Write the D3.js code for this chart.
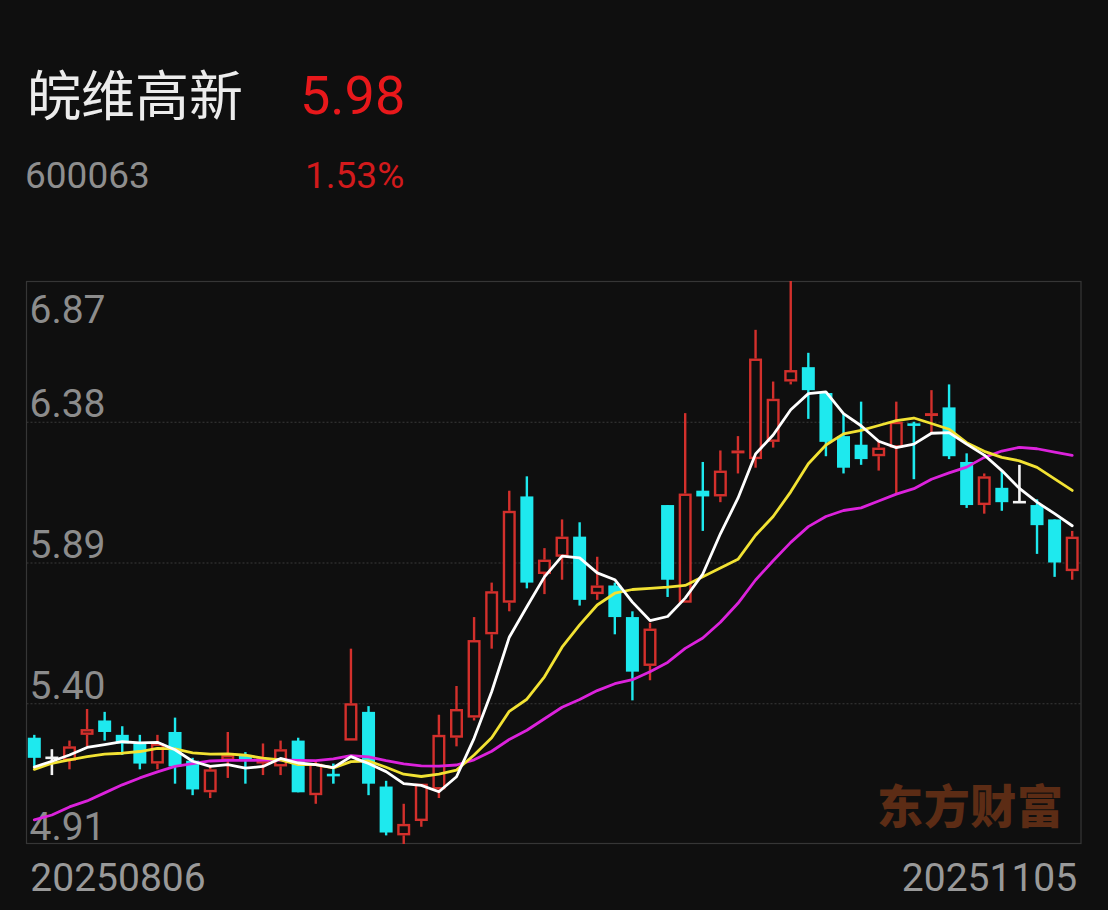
<!DOCTYPE html>
<html>
<head>
<meta charset="utf-8">
<script src="https://cdn.jsdelivr.net/npm/d3@7"></script>
<style>
  html, body { margin: 0; padding: 0; background: #0f0f0f; }
  svg { display: block; }
</style>
</head>
<body>
<svg id="chart" width="1108" height="910"></svg>
<script>
// ---- data ----
const stockName = "皖维高新";
const stockCode = "600063";
const lastPrice = "5.98";
const changePct = "1.53%";
const watermark = "东方财富";

const dates = [
  "20250806","20250807","20250808","20250811","20250812","20250813","20250814","20250815",
  "20250818","20250819","20250820","20250821","20250822","20250825","20250826","20250827",
  "20250828","20250829","20250901","20250902","20250903","20250904","20250905","20250908",
  "20250909","20250910","20250911","20250912","20250915","20250916","20250917","20250918",
  "20250919","20250922","20250923","20250924","20250925","20250926","20250929","20250930",
  "20251009","20251010","20251013","20251014","20251015","20251016","20251017","20251020",
  "20251021","20251022","20251023","20251024","20251027","20251028","20251029","20251030",
  "20251031","20251103","20251104","20251105"
];
const opens = [5.28,5.21,5.20,5.29,5.34,5.29,5.26,5.19,5.30,5.20,5.09,5.20,5.22,5.19,5.18,5.27,5.08,5.15,5.27,5.37,
               5.11,4.94,4.99,5.10,5.28,5.35,5.64,5.75,6.12,5.85,5.91,5.98,5.78,5.81,5.70,5.53,6.09,5.75,6.14,6.12,
               6.27,6.25,6.31,6.52,6.57,6.48,6.33,6.30,6.26,6.29,6.37,6.40,6.43,6.24,6.09,6.15,6.10,6.09,6.04,5.86];
const highs = [5.29,5.24,5.27,5.38,5.37,5.32,5.29,5.29,5.35,5.21,5.18,5.30,5.23,5.26,5.27,5.28,5.20,5.19,5.59,5.39,
               5.13,5.05,5.12,5.36,5.46,5.70,5.82,6.14,6.19,5.94,6.04,6.03,5.91,5.82,5.72,5.68,6.09,6.41,6.24,6.28,
               6.33,6.70,6.52,6.87,6.62,6.48,6.41,6.45,6.31,6.45,6.38,6.49,6.51,6.27,6.20,6.21,6.23,6.11,6.04,6.00];
const lows   = [5.18,5.15,5.17,5.25,5.27,5.22,5.17,5.17,5.12,5.08,5.07,5.14,5.12,5.15,5.15,5.09,5.05,5.12,5.27,5.08,
               4.94,4.91,4.97,5.07,5.25,5.34,5.59,5.72,5.80,5.78,5.83,5.74,5.76,5.64,5.41,5.48,5.77,5.75,6.00,6.10,
               6.20,6.22,6.29,6.51,6.39,6.26,6.20,6.23,6.21,6.13,6.18,6.34,6.25,6.08,6.06,6.07,6.10,5.92,5.84,5.83];
const closes = [5.21,5.21,5.25,5.31,5.30,5.26,5.19,5.26,5.18,5.10,5.17,5.22,5.20,5.21,5.24,5.09,5.19,5.15,5.40,5.12,
                4.95,4.98,5.12,5.29,5.38,5.62,5.79,6.07,5.82,5.90,5.98,5.76,5.81,5.70,5.51,5.66,5.83,6.13,6.12,6.21,
                6.28,6.60,6.46,6.56,6.49,6.31,6.22,6.25,6.29,6.38,6.37,6.41,6.26,6.09,6.19,6.10,6.10,6.02,5.89,5.98];

const ma5  = [5.178,5.198,5.220,5.246,5.256,5.266,5.262,5.264,5.238,5.198,5.180,5.186,5.174,5.180,5.208,5.192,5.186,5.176,5.214,5.190,
              5.162,5.120,5.114,5.092,5.144,5.278,5.440,5.630,5.736,5.840,5.912,5.906,5.854,5.830,5.752,5.688,5.702,5.766,5.850,5.990,
              6.114,6.268,6.334,6.422,6.478,6.484,6.408,6.366,6.312,6.290,6.302,6.340,6.342,6.302,6.264,6.210,6.148,6.100,6.060,6.018];
const ma10 = [5.170,5.191,5.203,5.214,5.223,5.226,5.232,5.243,5.241,5.227,5.223,5.224,5.219,5.209,5.203,5.186,5.186,5.175,5.197,5.199,
              5.177,5.153,5.145,5.153,5.167,5.220,5.280,5.372,5.414,5.492,5.595,5.673,5.742,5.783,5.796,5.800,5.804,5.810,5.840,5.871,
              5.901,5.985,6.050,6.136,6.234,6.299,6.338,6.350,6.367,6.384,6.393,6.374,6.354,6.307,6.277,6.256,6.244,6.221,6.181,6.141];
const ma20 = [4.994,5.011,5.039,5.060,5.088,5.116,5.140,5.161,5.180,5.190,5.199,5.201,5.201,5.202,5.203,5.201,5.200,5.206,5.218,5.213,
              5.200,5.189,5.182,5.181,5.185,5.203,5.233,5.274,5.306,5.346,5.386,5.413,5.444,5.468,5.482,5.510,5.542,5.591,5.627,5.682,
              5.748,5.829,5.896,5.960,6.015,6.050,6.071,6.080,6.104,6.128,6.147,6.180,6.202,6.222,6.256,6.278,6.291,6.286,6.274,6.263];

const yTicks = [6.87, 6.38, 5.89, 5.40, 4.91];
const xTickLabels = [dates[0], dates[dates.length - 1]];

// ---- layout ----
const W = 1108, H = 910;
const plot = { left: 26.5, right: 1081, top: 281, bottom: 844 };
const RED = "#d3302c", CYAN = "#1ee9ee", WHITE = "#f4f4f4";
const BG = "#0f0f0f";

const svg = d3.select("#chart");
svg.append("rect").attr("width", W).attr("height", H).attr("fill", BG);

// header text
const cjk = "'Noto Sans CJK SC', 'Noto Sans', sans-serif";
const num = "Roboto, 'Noto Sans', sans-serif";
svg.append("text").attr("x", 27).attr("y", 116).attr("fill", "#ececec")
  .attr("font-family", cjk).attr("font-size", 54).text(stockName);
svg.append("text").attr("x", 300).attr("y", 114).attr("fill", "#e8181b")
  .attr("font-family", num).attr("font-size", 54).text(lastPrice);
svg.append("text").attr("x", 25).attr("y", 188).attr("fill", "#8e8e8e")
  .attr("font-family", num).attr("font-size", 37).text(stockCode);
svg.append("text").attr("x", 305).attr("y", 188).attr("fill", "#d21a1c")
  .attr("font-family", num).attr("font-size", 37).text(changePct);

// scales
const x = d3.scaleBand().domain(dates).range([plot.left - 1, plot.right]).padding(0);
const cx = d => x(d) + x.bandwidth() / 2;
const y = d3.scaleLinear().domain([yTicks[yTicks.length - 1], yTicks[0]]).range([plot.bottom, plot.top]);

// watermark
svg.append("text").attr("x", 877).attr("y", 823).attr("fill", "#5c2c15")
  .attr("font-family", cjk).attr("font-weight", 900).attr("font-size", 46)
  .attr("textLength", 186).text(watermark);

// grid + y labels via axis
const yAxis = d3.axisRight(y).tickValues(yTicks).tickSize(plot.right - plot.left).tickFormat(d3.format(".2f"));
const gy = svg.append("g").attr("transform", `translate(${plot.left},0)`).call(yAxis);
gy.select(".domain").remove();
gy.selectAll(".tick line")
  .attr("stroke", d => (d === yTicks[0] || d === yTicks[yTicks.length - 1]) ? "none" : "#3a3a3a")
  .attr("stroke-width", 1).attr("stroke-dasharray", "2,2");
gy.selectAll(".tick text")
  .attr("x", 3).attr("dy", 0)
  .attr("y", d => d === yTicks[0] ? 41 : -5)
  .attr("fill", "#8c8c8c").attr("font-family", num).attr("font-size", 39)
  .attr("text-anchor", "start");

// frame
svg.append("rect").attr("x", plot.left).attr("y", plot.top + 0.5)
  .attr("width", plot.right - plot.left).attr("height", plot.bottom - plot.top - 1)
  .attr("fill", "none").attr("stroke", "#363636").attr("stroke-width", 1.2);

// x labels via axis
const xAxis = d3.axisBottom(x).tickValues(xTickLabels).tickSize(0);
const gx = svg.append("g").attr("transform", `translate(0,${plot.bottom})`).call(xAxis);
gx.select(".domain").remove();
gx.selectAll(".tick text")
  .attr("y", 47).attr("dy", 0)
  .attr("x", (d, i) => i === 0 ? -4 : 5)
  .attr("text-anchor", (d, i) => i === 0 ? "start" : "end")
  .attr("fill", "#999999").attr("font-family", num).attr("font-size", 39);

// candles
const candles = dates.map((d, i) => ({
  date: d, o: opens[i], h: highs[i], l: lows[i], c: closes[i],
  prev: i > 0 ? closes[i - 1] : null
}));
const colorOf = k => {
  if (k.c > k.o) return RED;
  if (k.c < k.o) return CYAN;
  if (k.prev == null || k.c === k.prev) return WHITE;
  return k.c > k.prev ? RED : CYAN;
};
const bodyW = 13;
const g = svg.append("g");
candles.forEach(k => {
  const col = colorOf(k);
  const xc = cx(k.date);
  const top = y(Math.max(k.o, k.c)), bot = y(Math.min(k.o, k.c));
  if (k.c > k.o) {
    g.append("line").attr("x1", xc).attr("x2", xc).attr("y1", y(k.h)).attr("y2", top)
      .attr("stroke", col).attr("stroke-width", 2.4);
    g.append("line").attr("x1", xc).attr("x2", xc).attr("y1", bot).attr("y2", y(k.l))
      .attr("stroke", col).attr("stroke-width", 2.4);
    g.append("rect").attr("x", xc - bodyW / 2 + 1.2).attr("y", top + 1.2)
      .attr("width", bodyW - 2.4).attr("height", Math.max(bot - top - 2.4, 0.5))
      .attr("fill", BG).attr("stroke", col).attr("stroke-width", 2.4);
  } else if (k.c < k.o) {
    g.append("line").attr("x1", xc).attr("x2", xc).attr("y1", y(k.h)).attr("y2", y(k.l))
      .attr("stroke", col).attr("stroke-width", 2.4);
    g.append("rect").attr("x", xc - bodyW / 2).attr("y", top)
      .attr("width", bodyW).attr("height", Math.max(bot - top, 2))
      .attr("fill", col);
  } else {
    g.append("line").attr("x1", xc).attr("x2", xc).attr("y1", y(k.h)).attr("y2", y(k.l))
      .attr("stroke", col).attr("stroke-width", 2.6);
    g.append("line").attr("x1", xc - bodyW / 2).attr("x2", xc + bodyW / 2).attr("y1", y(k.c)).attr("y2", y(k.c))
      .attr("stroke", col).attr("stroke-width", 2.6);
  }
});

// moving averages
const line = d3.line().x((d, i) => cx(dates[i])).y(d => y(d));
[[ma20, "#dc22dc"], [ma10, "#f2e233"], [ma5, "#ffffff"]].forEach(([arr, col]) => {
  svg.append("path").datum(arr).attr("d", line)
    .attr("fill", "none").attr("stroke", col).attr("stroke-width", 2.8)
    .attr("stroke-linejoin", "round").attr("stroke-linecap", "round");
});
</script>
</body>
</html>
